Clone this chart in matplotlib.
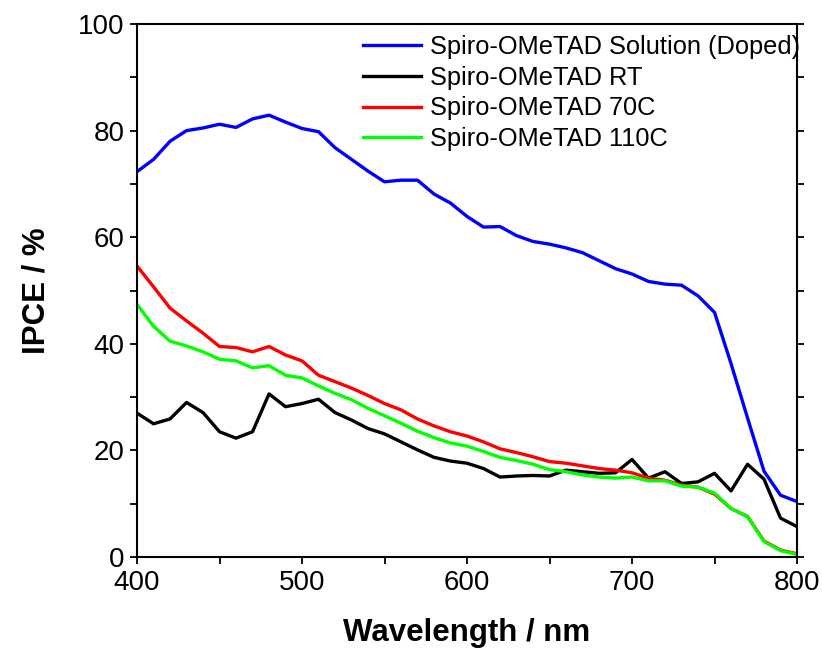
import numpy as np
import matplotlib
matplotlib.use("Agg")
import matplotlib.pyplot as plt
from matplotlib.ticker import MultipleLocator

plt.rcParams['font.family'] = ['Liberation Sans', 'DejaVu Sans']

wavelength = np.arange(400, 801, 10)

ipce_solution = [72.3, 74.6, 78.0, 80.0, 80.5, 81.2, 80.6, 82.2, 82.9, 81.6,
                 80.4, 79.8, 76.8, 74.6, 72.4, 70.4, 70.7, 70.7, 68.1, 66.4,
                 63.9, 61.9, 62.0, 60.3, 59.2, 58.7, 58.0, 57.1, 55.6, 54.1,
                 53.1, 51.7, 51.2, 51.0, 49.0, 45.9, 36.3, 26.1, 16.1, 11.6, 10.4]
ipce_rt = [27.0, 25.0, 25.9, 29.0, 27.1, 23.5, 22.3, 23.5, 30.6, 28.2,
           28.8, 29.6, 27.1, 25.7, 24.1, 23.1, 21.6, 20.1, 18.7, 18.0,
           17.6, 16.6, 15.0, 15.2, 15.3, 15.2, 16.3, 16.0, 15.7, 15.8,
           18.3, 14.8, 16.0, 13.8, 14.1, 15.7, 12.4, 17.4, 14.6, 7.3, 5.7]
ipce_70c = [54.6, 50.7, 46.7, 44.3, 42.0, 39.5, 39.3, 38.5, 39.5, 37.9,
            36.8, 34.1, 32.9, 31.7, 30.3, 28.8, 27.6, 25.9, 24.6, 23.5,
            22.7, 21.6, 20.3, 19.6, 18.8, 17.9, 17.6, 17.1, 16.6, 16.3,
            15.8, 14.8, 14.4, 13.5, 13.1, 11.8, 9.1, 7.6, 3.0, 1.3, 0.6]
ipce_110c = [47.4, 43.3, 40.5, 39.6, 38.5, 37.1, 36.8, 35.5, 35.9, 34.1,
             33.6, 32.1, 30.7, 29.5, 27.9, 26.5, 25.1, 23.6, 22.4, 21.4,
             20.8, 19.8, 18.7, 18.1, 17.4, 16.4, 16.0, 15.4, 15.0, 14.8,
             15.0, 14.3, 14.3, 13.3, 13.1, 12.0, 9.1, 7.6, 2.9, 1.2, 0.5]

labels = ["Spiro-OMeTAD Solution (Doped)", "Spiro-OMeTAD RT",
          "Spiro-OMeTAD 70C", "Spiro-OMeTAD 110C"]
colors = ["#0000ff", "#000000", "#ff0000", "#00ff00"]

fig = plt.figure(figsize=(8.22, 6.53), dpi=100)
ax = fig.add_axes([0.1667, 0.147, 0.8029, 0.8162])

for y, lab, c in zip([ipce_solution, ipce_rt, ipce_70c, ipce_110c], labels, colors):
    ax.plot(wavelength, y, color=c, lw=2.4, label=lab)

ax.set_xlim(400, 800)
ax.set_ylim(0, 100)
ax.xaxis.set_major_locator(MultipleLocator(100))
ax.xaxis.set_minor_locator(MultipleLocator(50))
ax.yaxis.set_major_locator(MultipleLocator(20))
ax.yaxis.set_minor_locator(MultipleLocator(10))
ax.tick_params(which='both', direction='out', width=1.3, length=5,
               labelsize=20, pad=4, right=True)
for s in ax.spines.values():
    s.set_linewidth(1.5)

ax.set_xlabel("Wavelength / nm", fontsize=22.5, fontweight='bold', labelpad=16)
ax.set_ylabel("IPCE / %", fontsize=22.5, fontweight='bold', labelpad=19)

ax.legend(loc='upper left', bbox_to_anchor=(0.342, 0.98), frameon=False,
          fontsize=18.3, handlelength=2.3, handletextpad=0.33, borderpad=0,
          borderaxespad=0, labelspacing=0.27)

fig.savefig("out.png", dpi=100)
